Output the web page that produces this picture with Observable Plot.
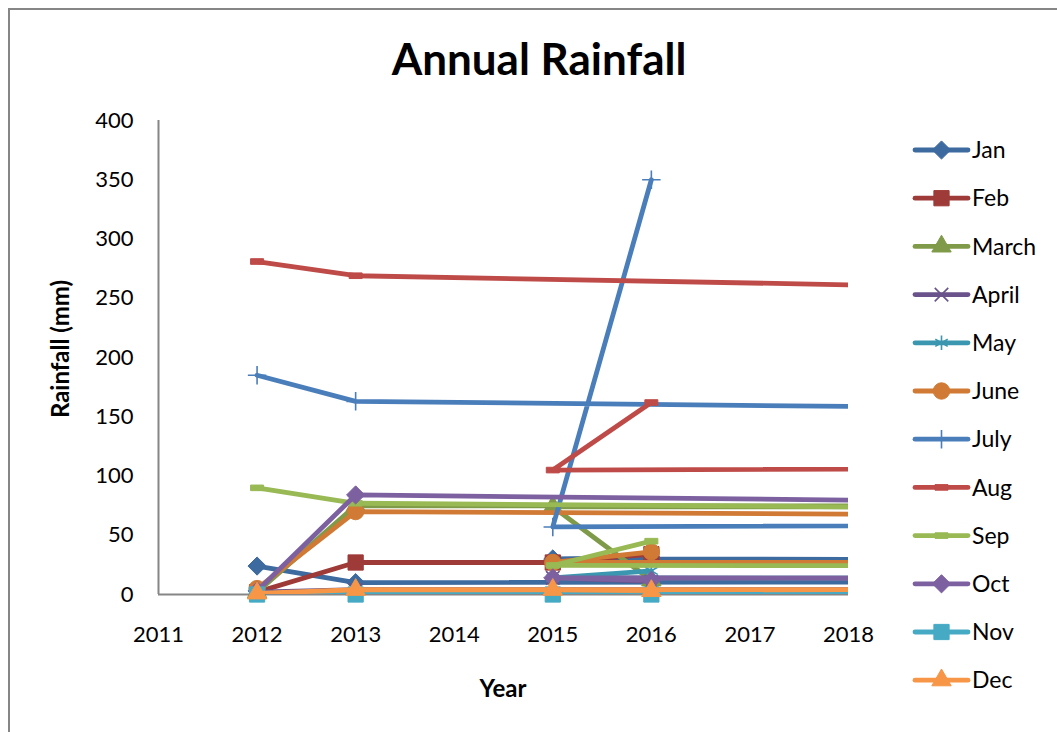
<!DOCTYPE html>
<html><head><meta charset="utf-8">
<script src="https://cdn.jsdelivr.net/npm/d3@7"></script>
<script src="https://cdn.jsdelivr.net/npm/@observablehq/plot@0.6"></script>
<style>
body{margin:0;background:#fff;}
#wrap{position:relative;width:1057px;height:732px;overflow:hidden;font-family:Lato,"Open Sans",sans-serif;color:#000;}
#border{position:absolute;left:8px;top:8px;width:1100px;height:800px;border:2px solid #868686;box-sizing:border-box;}
#title{position:absolute;left:8px;width:1062px;top:36px;text-align:center;font-weight:700;font-size:44px;line-height:1;}
#chart{position:absolute;left:0;top:0;}
#ylab{position:absolute;left:60px;top:349px;transform:translate(-50%,-50%) rotate(-90deg);font-weight:700;font-size:24px;white-space:nowrap;line-height:1;}
#xlab{position:absolute;left:503px;top:688px;transform:translate(-50%,-50%);font-weight:700;font-size:24px;line-height:1;}
#legend{position:absolute;left:900px;top:0;}
</style></head><body>
<div id="wrap"><div id="border"></div><div id="title">Annual Rainfall</div><div id="chart"></div><div id="ylab">Rainfall (mm)</div><div id="xlab">Year</div><svg id="legend" width="157" height="732"></svg></div>
<script>
// Categories and x values (the third year was evidently typed as 2104 in the source sheet)
const months = ["Jan","Feb","March","April","May","June","July","Aug","Sep","Oct","Nov","Dec"];
const years = [2012, 2013, 2104, 2015, 2016];
// Series values (mm), one per month, in order of years
const jan   = [24, 10, 20, 30, 31];
const feb   = [2, 27, 27, 27, 34];
const march = [2, 75, 70, 74, 12];
const april = [2, 4, 8, 14, 11];
const may   = [1, 2, 6, 14, 20];
const june  = [5, 70, 30, 27, 36];
const july  = [185, 163, 85, 57, 350];
const aug   = [281, 269, 130, 105, 162];
const sep   = [90, 77, 22, 24.5, 45];
const oct   = [3, 84, 5, 14, 12];
const nov   = [0, 0, 0, 0, 0];
const dec   = [1, 4, 5, 4, 3];
// Tick labels
const xTicks = [2011, 2012, 2013, 2014, 2015, 2016, 2017, 2018];
const yTicks = [0, 50, 100, 150, 200, 250, 300, 350, 400];
// Styles
const colors = ["#3D6A9F","#9E3B38","#7F9A48","#69538A","#3B96B0","#D07A35","#4A7EBB","#BE4B48","#98B954","#7D60A0","#46AAC5","#F79646"];
const dash = {draw(ctx, size){const w = 6.5, h = 2.8; ctx.rect(-w, -h, 2*w, 2*h);}};
const markers = [
  {symbol:"diamond2", r:8.2, filled:true},
  {symbol:"square", r:8.6, filled:true},
  {symbol:"triangle", r:7.2, filled:true},
  {symbol:"times", r:6.2, filled:false},
  {symbol:"asterisk", r:6.8, filled:false},
  {symbol:"circle", r:8.2, filled:true},
  {symbol:"plus", r:6, filled:false},
  {symbol:dash, r:8, filled:true},
  {symbol:dash, r:8, filled:true},
  {symbol:"diamond2", r:8.2, filled:true},
  {symbol:"square", r:8.6, filled:true},
  {symbol:"triangle", r:7.2, filled:true}
];
const seriesValues = [jan, feb, march, april, may, june, july, aug, sep, oct, nov, dec];
const rows = [];
months.forEach((m, i) => years.forEach((yr, j) => rows.push({month: m, year: yr, value: seriesValues[i][j]})));

const xMin = xTicks[0], xMax = xTicks[xTicks.length - 1];
const marks = [
  Plot.ruleX([xMin], {stroke:"#868686", strokeWidth:2}),
  Plot.ruleY([0], {stroke:"#868686", strokeWidth:2})
];
months.forEach((m, i) => {
  const d = rows.filter(r => r.month === m);
  marks.push(Plot.line(d, {x:"year", y:"value", stroke: colors[i], strokeWidth: 4.8, strokeLinejoin:"round", strokeLinecap:"round", clip: true}));
  const mk = markers[i];
  marks.push(Plot.dot(d.filter(r => r.year >= xMin && r.year <= xMax), {
    x:"year", y:"value", symbol: mk.symbol, r: mk.r,
    fill: mk.filled ? colors[i] : "none", stroke: colors[i], strokeWidth: mk.filled ? 1 : 1.6
  }));
});
marks.push(Plot.axisX(xTicks, {tickSize:0, tickPadding:32, tickFormat: d => String(d), fontSize: 22}));
marks.push(Plot.axisY(yTicks, {tickSize:0, tickPadding:25, fontSize: 22}));

const chart = Plot.plot({
  width: 900, height: 700,
  marginLeft: 158, marginRight: 52, marginTop: 120, marginBottom: 106,
  x: {domain: [xMin, xMax], label: null},
  y: {domain: [0, 400], label: null},
  style: {fontFamily: "Lato, 'Open Sans', sans-serif", fontSize: "22px", color: "#000", background: "transparent", overflow: "visible"},
  marks
});
document.getElementById("chart").appendChild(chart);

// Legend
const leg = d3.select("#legend");
months.forEach((m, i) => {
  const cy = 150 + i * 48.2;
  const g = leg.append("g").attr("transform", `translate(0,${cy})`);
  g.append("line").attr("x1", 15).attr("x2", 68).attr("y1", 0).attr("y2", 0)
    .attr("stroke", colors[i]).attr("stroke-width", 4.8).attr("stroke-linecap", "round");
  const mk = markers[i];
  const sym = typeof mk.symbol === "string" ? ({diamond2:d3.symbolDiamond2, square:d3.symbolSquare, triangle:d3.symbolTriangle, times:d3.symbolTimes, asterisk:d3.symbolAsterisk, circle:d3.symbolCircle, plus:d3.symbolPlus})[mk.symbol] : mk.symbol;
  g.append("path").attr("transform", "translate(41.5,0)")
    .attr("d", d3.symbol(sym, Math.PI * mk.r * mk.r)())
    .attr("fill", mk.filled ? colors[i] : "none").attr("stroke", colors[i]).attr("stroke-width", mk.filled ? 1 : 1.6);
  g.append("text").attr("x", 72).attr("y", 0).attr("dy", "0.36em")
    .style("font-family", "Lato, 'Open Sans', sans-serif").style("font-size", "23px").attr("fill", "#000").text(m);
});
</script>
</body></html>
